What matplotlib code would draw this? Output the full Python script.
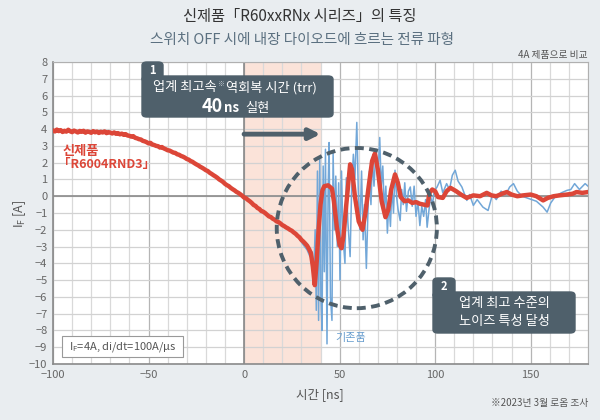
import matplotlib
matplotlib.use("Agg")
import matplotlib.pyplot as plt
from matplotlib.patches import Ellipse, FancyBboxPatch, Rectangle

plt.rcParams['font.family'] = ['Noto Sans CJK KR', 'DejaVu Sans']

# new product (R6004RND3) waveform, time in ns / current in A
# -100 .. 34 ns sampled every 1 ns
red_head = [3.92, 3.86, 3.97, 3.88, 3.94, 3.83, 3.9, 3.85, 3.96, 3.87, 3.82, 3.91, 3.86, 3.8,
            3.89, 3.84, 3.9, 3.79, 3.86, 3.83, 3.78, 3.88, 3.81, 3.85, 3.77, 3.84, 3.8, 3.86,
            3.76, 3.82, 3.79,
            3.74, 3.8, 3.72, 3.76, 3.69, 3.73, 3.66, 3.7, 3.62, 3.6, 3.55, 3.58, 3.48, 3.45, 3.4,
            3.38, 3.3, 3.27, 3.22, 3.15, 3.18, 3.08, 3.05, 3.0, 2.98, 2.9, 2.93, 2.85, 2.8, 2.74,
            2.72, 2.66, 2.6, 2.58, 2.5, 2.47, 2.4, 2.36, 2.3, 2.22, 2.18, 2.1, 2.05, 1.97, 1.9,
            1.84, 1.76, 1.7, 1.63, 1.55, 1.5, 1.4, 1.33, 1.25, 1.18, 1.1, 1.0, 0.93, 0.85, 0.74,
            0.66, 0.6, 0.5, 0.42, 0.35, 0.26, 0.2, 0.12, 0.03, -0.08, -0.12, -0.22, -0.3, -0.4,
            -0.52,
            -0.58, -0.7, -0.76, -0.88, -0.92, -1.0, -1.1, -1.2, -1.24, -1.34, -1.4, -1.5, -1.54,
            -1.62, -1.72,
            -1.78, -1.86, -1.92, -2.0, -2.06, -2.16, -2.24, -2.36, -2.45, -2.6, -2.7, -2.82,
            -2.95, -3.15]
red_head_t = list(range(-100, 35))
red_tail_t = [35, 36, 37, 38, 39, 40, 41, 42, 44, 46, 47,
              48.5, 50, 51, 52, 53.5, 55.5, 56.5, 58, 60, 62, 63.5, 65, 67, 68.5, 70, 72,
              74, 75.5, 77, 79, 80.5, 82, 84, 86, 88, 90, 92, 94, 96, 97, 98.5, 100,
              101.5, 104, 106, 108, 111, 113.5, 116.5, 120, 123.5, 127, 129.5, 132, 135,
              137.5, 140, 143, 146, 150, 153, 156.5, 159, 162, 165, 169, 172, 174, 177, 180]
red_tail = [-3.4, -4.2, -5.3, -3.9, -2.0, -0.5, 0.35, 0.6, 0.65, 0.45, -0.3,
            -1.8, -2.9, -3.1, -2.4, -0.5, 1.9, 1.6, 0.0, -1.5, -2.0, -1.0, 0.4, 2.1, 2.55, 1.6,
            -0.3, -1.25, -0.8, 0.4, 1.3, 0.8, -0.05, -0.3, -0.25, -0.4, -0.35, -0.45, -0.5,
            -0.55, 0.2, 0.4, 0.3,
            -0.05, -0.1, 0.3, 0.5, 0.3, 0.1, -0.1, 0.05, 0.0, 0.2, 0.05, 0.0, 0.15,
            0.25, 0.1, 0.0, 0.05, 0.1, 0.0, -0.25, -0.1, 0.0, 0.05, 0.1, 0.15, 0.25, 0.2, 0.25]

# conventional product waveform
blue_t = [25, 28, 31, 33, 34.5, 35.5, 36.5, 37.2, 37.8, 38.4, 39.0, 39.6, 40.2, 40.8, 41.4,
          42.0, 42.6, 43.4, 44.0, 44.5, 45.2, 46.0, 46.6, 47.3, 48.0, 48.8, 49.5, 50.2, 51.0,
          51.8, 52.8, 53.5, 54.3, 55.5, 56.3, 57.2, 58.0, 59.0, 59.8, 60.6, 61.5, 62.3, 63.0,
          64.0, 64.8, 65.6, 66.4, 67.2, 68.0, 69.0, 70.0, 71.0, 71.8, 72.6, 73.4, 74.2, 75.0,
          75.8, 76.6, 77.4, 78.2, 79.0, 79.8, 80.6, 81.7, 82.5, 83.3, 84.1, 85.0, 86.0, 87.0,
          88.0, 89.0, 90.0, 91.0, 92.0, 93.0, 94.0, 95.0, 95.8, 96.8, 97.6, 98.6, 99.5, 101,
          102.6, 104, 106, 107.5, 109, 110.5, 112, 114, 116.6, 118, 120, 122, 125, 127.7, 130,
          132, 134.5, 137, 139, 141, 143, 145.5, 148, 150.5, 153, 156.5, 158.6, 160.5, 163,
          166, 169, 171, 173, 175.5, 178.5, 180]
blue_i = [-2.1, -2.4, -2.9, -3.2, -3.6, -3.3, -4.6, -2.0, -6.8, 1.5, -7.4, 2.3, -6.0, -8.0, 1.8,
          -4.5, 2.8, -8.8, 0.5, 3.2, -6.0, -7.4, 2.6, -2.0, 1.2, -3.0, 0.8, -5.0, 1.5,
          -2.5, -4.0, 1.1, -1.5, -3.6, 0.5, 2.5, 1.0, 4.4, 0.2, -2.0, 1.5, -2.6, -0.5,
          -4.3, -1.0, 1.5, -0.5, 2.2, 0.6, 2.8, 1.0, 3.5, 0.5, 1.8, -0.8, 0.6, -2.2,
          -0.3, -1.8, 0.6, -1.0, 1.55, 0.0, -0.8, -1.45, 0.4, -0.5, 0.8, -0.9, 0.3, 0.55,
          -0.6, 0.6, -1.2, -0.3, -1.75, -0.6, -1.2, -0.2, -1.85, -0.8, 0.0, -0.5, 0.3, 0.55,
          0.95, 0.2, 0.75, 0.4, 1.25, 1.55, 0.9, 0.55, -0.25, 0.1, -0.55, -0.2, -0.65, -0.85, 0.1,
          -0.2, 0.3, 0.1, 0.55, 0.75, 0.3, 0.0, -0.1, -0.2, -0.3, -0.65, -0.95, -0.4, 0.0,
          0.2, 0.35, 0.4, 0.75, 0.4, 0.75, 0.6]

x_ticks = [-100, -50, 0, 50, 100, 150]
y_ticks = list(range(-10, 9))

RED = '#dc4638'
BLUE = '#72a7d8'
SLATE = '#4f606b'
W, H = 600, 420


def px(x, y):
    # pixel position (top-left origin) -> figure fraction
    return x / W, 1 - y / H


fig = plt.figure(figsize=(6, 4.2), dpi=100, facecolor='#e9edf0')
ax = fig.add_axes([53 / W, 1 - 364 / H, (588 - 53) / W, (364 - 62) / H])
ax.set_facecolor('white')
ax.set_xlim(-100, 180)
ax.set_ylim(-10, 8)
ax.set_xticks(x_ticks)
ax.set_xticks(range(-100, 181, 10), minor=True)
ax.set_yticks(y_ticks)
ax.set_axisbelow(True)
ax.grid(which='minor', axis='x', color='#d9d9d9', lw=0.9)
ax.grid(which='major', axis='x', color='#b5b5b5', lw=0.9)
ax.grid(which='major', axis='y', color='#d2d2d2', lw=0.9)
ax.tick_params(which='both', length=0, labelsize=8, labelcolor='#666666', pad=4)
for s in ['left', 'bottom']:
    ax.spines[s].set_color('#8a8a8a')
    ax.spines[s].set_linewidth(1.2)
for s in ['top', 'right']:
    ax.spines[s].set_color('#b0b0b0')
    ax.spines[s].set_linewidth(0.8)

ax.axvspan(0, 40, color='#fbe3d9', zorder=0.2, lw=0)
ax.axhline(0, color='#8a8a8a', lw=1.2, zorder=0.6)
ax.axvline(0, color='#8a8a8a', lw=1.2, zorder=0.6)

ax.plot(blue_t, blue_i, color=BLUE, lw=1.1, zorder=3)
ax.plot(red_head_t + red_tail_t, red_head + red_tail, color=RED, lw=3.2, zorder=4,
        solid_joinstyle='round')

ax.add_patch(Ellipse((59, -1.9), 83.8, 9.55, fill=False, ls=(0, (2.3, 1.4)),
                     lw=2.8, color=SLATE, zorder=6))
ax.annotate('', xy=(40, 3.7), xytext=(0, 3.7),
            arrowprops=dict(arrowstyle='-|>', lw=3.5, color=SLATE, mutation_scale=16,
                            shrinkA=0, shrinkB=0), zorder=6)

# titles
fig.text(*px(300, 16), '신제품「R60xxRNx 시리즈」의 특징', ha='center', va='center',
         fontsize=11, color='#333333')
fig.text(*px(302, 40), '스위치 OFF 시에 내장 다이오드에 흐르는 전류 파형', ha='center',
         va='center', fontsize=10.5, color='#5b7080')
fig.text(*px(588, 55), '4A 제품으로 비교', ha='right', va='center', fontsize=7, color='#555555')
fig.text(*px(588, 403), '※2023년 3월 로옴 조사', ha='right', va='center', fontsize=7,
         color='#555555')
fig.text(*px(320, 395), '시간 [ns]', ha='center', va='center', fontsize=9, color='#555555')
fig.text(*px(20, 214), r'I$_\mathregular{F}$ [A]', ha='center', va='center', rotation=90,
         fontsize=9, color='#555555')


# numbered callout box with tab
def callout(x0, y0, x1, y1, tx1, ty0, label):
    box = FancyBboxPatch(px(x0, y1), (x1 - x0) / W, (y1 - y0) / H,
                         boxstyle='round,pad=0,rounding_size=0.008',
                         transform=fig.transFigure, color=SLATE, zorder=7)
    tab = FancyBboxPatch(px(x0, y0 + 6), (tx1 - x0) / W, (y0 + 6 - ty0) / H,
                         boxstyle='round,pad=0,rounding_size=0.008',
                         transform=fig.transFigure, color=SLATE, zorder=7)
    fig.patches.extend([box, tab])
    fig.text(*px((x0 + tx1) / 2, (ty0 + y0) / 2 + 1), label, ha='center', va='center',
             fontsize=8, color='white', fontweight='bold', zorder=8)


callout(142, 76, 333, 117, 163, 62, '1')
fig.text(*px(217, 88), '업계 최고속', ha='right', va='center', fontsize=9.5, color='white', zorder=8)
fig.text(*px(217.5, 84), '※', ha='left', va='center', fontsize=5, color='#c8d0d6', zorder=8)
fig.text(*px(226, 88), '역회복 시간 (trr)', ha='left', va='center', fontsize=9.5,
         color='white', zorder=8)
fig.text(*px(223, 112), '40', ha='right', va='baseline', fontsize=13, color='white',
         fontweight='bold', zorder=8)
fig.text(*px(224, 112), 'ns', ha='left', va='baseline', fontsize=9.5, color='white',
         fontweight='bold', zorder=8)
fig.text(*px(245, 112), '실현', ha='left', va='baseline', fontsize=9.5, color='white', zorder=8)

callout(433, 292, 575, 333, 455, 278, '2')
fig.text(*px(504, 303), '업계 최고 수준의', ha='center', va='center', fontsize=9.5,
         color='white', zorder=8)
fig.text(*px(504, 322), '노이즈 특성 달성', ha='center', va='center', fontsize=9.5,
         color='white', zorder=8)

# series labels
fig.text(*px(63, 151), '신제품', ha='left', va='center', fontsize=9.5, color=RED,
         fontweight='bold')
fig.text(*px(58, 165), '「R6004RND3」', ha='left', va='center', fontsize=9, color=RED,
         fontweight='bold')
fig.text(*px(335, 338), '기존품', ha='left', va='center', fontsize=8, color='#6a9fcf')

# condition box
fig.patches.append(Rectangle(px(62, 357), 121 / W, 21 / H, transform=fig.transFigure,
                             facecolor='white', edgecolor='#999999', lw=0.8, zorder=7))
fig.text(*px(122.5, 347), r'I$_\mathregular{F}$=4A, di/dt=100A/μs', ha='center', va='center',
         fontsize=8, color='#555555', zorder=8)

fig.savefig('out.png', dpi=100, facecolor=fig.get_facecolor())
